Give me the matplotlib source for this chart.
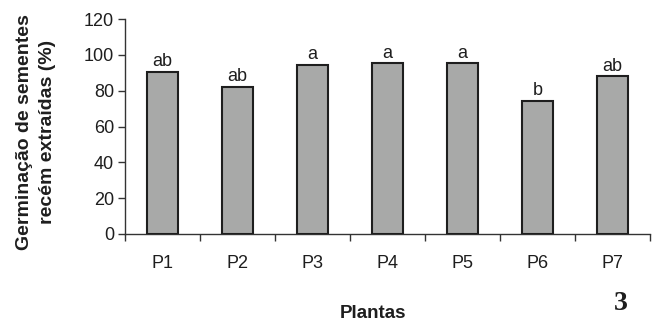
import matplotlib
matplotlib.use("Agg")
import matplotlib.pyplot as plt
import numpy as np

plt.rcParams['font.family'] = ['Liberation Sans', 'DejaVu Sans']

plants = ["P1", "P2", "P3", "P4", "P5", "P6", "P7"]
germination = [90.5, 82.2, 94.3, 95.2, 95.2, 74.2, 88.0]
letters = ["ab", "ab", "a", "a", "a", "b", "ab"]
yticks = [0, 20, 40, 60, 80, 100, 120]

fig = plt.figure(figsize=(6.56, 3.23), dpi=100)
ax = fig.add_axes([125/656, 1-234/323, 525/656, 215/323])

x = np.arange(len(plants))
ax.bar(x, germination, width=0.41, color="#a8a9a8", edgecolor="#1e1e1e", linewidth=1.5, zorder=3)
for xi, v, l in zip(x, germination, letters):
    ax.text(xi, v + 1.0, l, ha="center", va="bottom", fontsize=13, color="#1e1e1e")

ax.set_xlim(-0.5, len(plants) - 0.5)
ax.set_ylim(0, 120)
ax.set_yticks(yticks)
ax.set_yticklabels([str(t) for t in yticks], fontsize=13, color="#1e1e1e")
ax.set_xticks(np.arange(-0.5, len(plants), 1.0), minor=False)
ax.set_xticklabels([])
ax.set_xticks(x, minor=True)
ax.set_xticklabels(plants, minor=True, fontsize=13, color="#1e1e1e")
ax.tick_params(axis="x", which="major", direction="out", length=5, width=1, color="#333333")
ax.tick_params(axis="x", which="minor", length=0, pad=15)
ax.tick_params(axis="y", direction="out", length=5, width=1, color="#333333", pad=3)

for s in ["top", "right"]:
    ax.spines[s].set_visible(False)
for s in ["left", "bottom"]:
    ax.spines[s].set_color("#333333")
    ax.spines[s].set_linewidth(1)

fig.text(36/656, 1-132/323, "Germinação de sementes\nrecém extraídas (%)", rotation=90,
         ha="center", va="center", fontsize=14, fontweight="bold", color="#1e1e1e",
         linespacing=1.45, multialignment="center")
fig.text(373/656, 1-313/323, "Plantas", ha="center", va="center", fontsize=13.5,
         fontweight="bold", color="#1e1e1e")
fig.text(621/656, 1-304/323, "3", ha="center", va="center", fontsize=20,
         fontweight="bold", family=["Liberation Serif", "DejaVu Serif"], color="#1e1e1e")

fig.savefig("out.png", dpi=100)
